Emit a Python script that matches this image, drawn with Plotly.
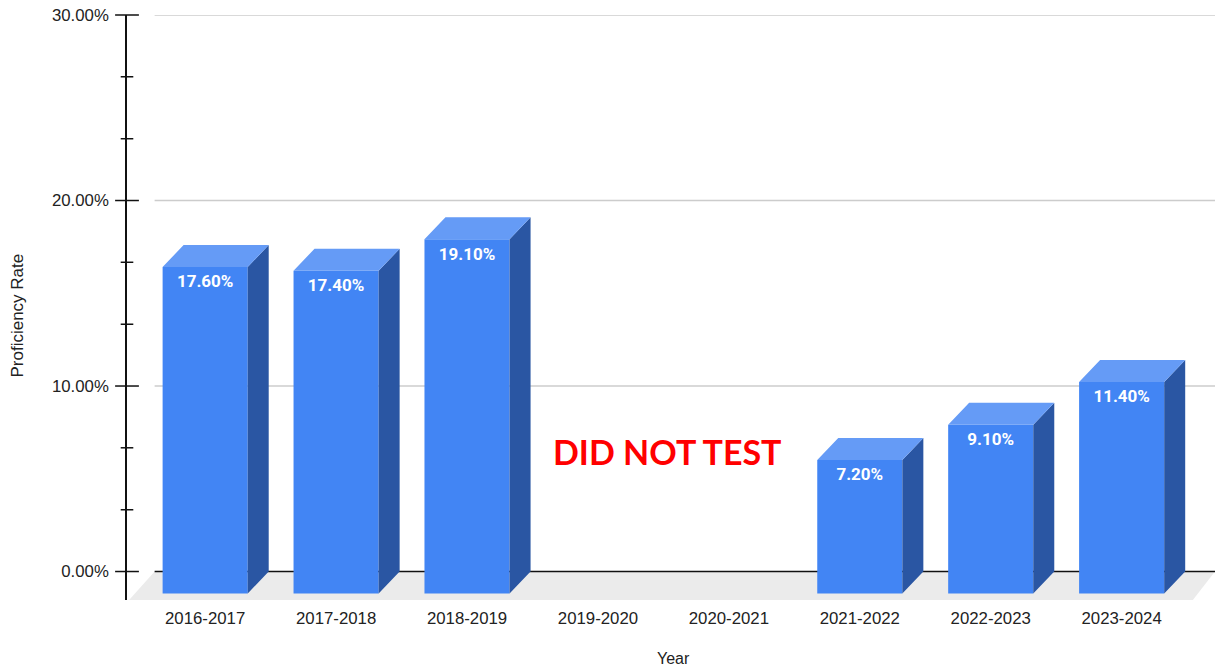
import plotly.graph_objects as go

years = ["2016-2017", "2017-2018", "2018-2019", "2019-2020",
         "2020-2021", "2021-2022", "2022-2023", "2023-2024"]
rates = [17.6, 17.4, 19.1, None, None, 7.2, 9.1, 11.4]
major_ticks = [0, 10, 20, 30]
minor_ticks = [3.33, 6.67, 13.33, 16.67, 23.33, 26.67]
tick_labels = ["0.00%", "10.00%", "20.00%", "30.00%"]
note = "DID NOT TEST"

# fake 3D: the front face sits this far down/left of the back wall
DX = 0.1604
DY = 1.185
BAR_W = 0.65
X_MIN, X_MAX = -0.597, 7.713
Y_MIN = -1.535
WALL_X = -0.386
FONT = "Liberation Sans"

xs = [i for i, v in enumerate(rates) if v is not None]
vals = [v for v in rates if v is not None]

side_x, side_y, top_x, top_y = [], [], [], []
for i, v in zip(xs, vals):
    left, right = i - BAR_W / 2, i + BAR_W / 2
    side_x += [right, right + DX, right + DX, right, None]
    side_y += [-DY, 0, v, v - DY, None]
    top_x += [left, left + DX, right + DX, right, None]
    top_y += [v - DY, v, v, v - DY, None]

fig = go.Figure()
fig.add_trace(go.Bar(
    x=xs, y=vals, base=[-DY] * len(vals), width=BAR_W,
    marker=dict(color="#4285f4", line=dict(width=0)),
))
fig.add_trace(go.Scatter(
    x=side_x, y=side_y, mode="lines", fill="toself",
    fillcolor="#2a56a3", line=dict(width=0),
))
fig.add_trace(go.Scatter(
    x=top_x, y=top_y, mode="lines", fill="toself",
    fillcolor="#659bf6", line=dict(width=0),
))
fig.add_trace(go.Scatter(
    x=xs, y=[v - DY - 0.87 for v in vals], mode="text",
    text=[f"{v:.2f}%" for v in vals], textposition="middle center",
    textfont=dict(family="Roboto", size=17, color="white", weight="bold"),
))
# cross shaped ticks on the y axis
fig.add_trace(go.Scatter(
    x=[X_MIN] * len(major_ticks), y=major_ticks, mode="markers", cliponaxis=False,
    marker=dict(symbol="line-ew", size=17, line=dict(color="#111111", width=1.5)),
))
fig.add_trace(go.Scatter(
    x=[X_MIN] * len(minor_ticks), y=minor_ticks, mode="markers", cliponaxis=False,
    marker=dict(symbol="line-ew", size=9, line=dict(color="#111111", width=1.5)),
))

# floor and gridlines have to stay behind the bars
shapes = [dict(
    type="path", layer="below", line=dict(width=0), fillcolor="#ebebeb",
    path=f"M {X_MIN + 0.016} {Y_MIN} L {WALL_X} 0 L {X_MAX} 0 L 7.544 {Y_MIN} Z",
)]
for t in major_ticks:
    shapes.append(dict(
        type="line", layer="below", x0=WALL_X, x1=X_MAX, y0=t, y1=t,
        line=dict(color="#111111" if t == 0 else "#cccccc", width=1.5),
    ))

fig.update_layout(
    width=1215, height=669,
    margin=dict(l=127, r=0, t=15, b=68.5),
    paper_bgcolor="white", plot_bgcolor="white",
    showlegend=False, hovermode=False,
    font=dict(family=FONT, size=16.8, color="#222222"),
    shapes=shapes,
    xaxis=dict(
        range=[X_MIN, X_MAX], showgrid=False, zeroline=False, showline=False,
        tickmode="array", tickvals=list(range(len(years))), ticktext=years,
        ticks="outside", ticklen=3, tickcolor="rgba(0,0,0,0)",
        automargin=False,
    ),
    yaxis=dict(
        range=[Y_MIN, 30], showgrid=False, zeroline=False,
        showline=True, linecolor="#111111", linewidth=1.5,
        tickmode="array", tickvals=major_ticks, ticktext=tick_labels,
        ticks="outside", ticklen=13, tickcolor="rgba(0,0,0,0)",
        ticklabeloverflow="allow", automargin=False,
    ),
    annotations=[
        dict(
            x=3.53, y=6.46, text=note, showarrow=False,
            font=dict(family="Lato", size=34, color="#ff0000", weight="bold"),
        ),
        # axis titles sit off centre in the original, so they are placed by hand
        dict(
            x=3.58, y=0, yref="paper", yshift=-58.5, yanchor="middle",
            text="Year", showarrow=False, font=dict(size=16),
        ),
        dict(
            x=0, xref="paper", xshift=-109, xanchor="center", y=13.8,
            text="Proficiency Rate", textangle=-90, showarrow=False,
            font=dict(size=17),
        ),
    ],
)

# drop the default page margin so the figure fills the window exactly
fig.write_html("out.html", config={"displayModeBar": False},
               post_script="document.body.style.margin = '0';")
